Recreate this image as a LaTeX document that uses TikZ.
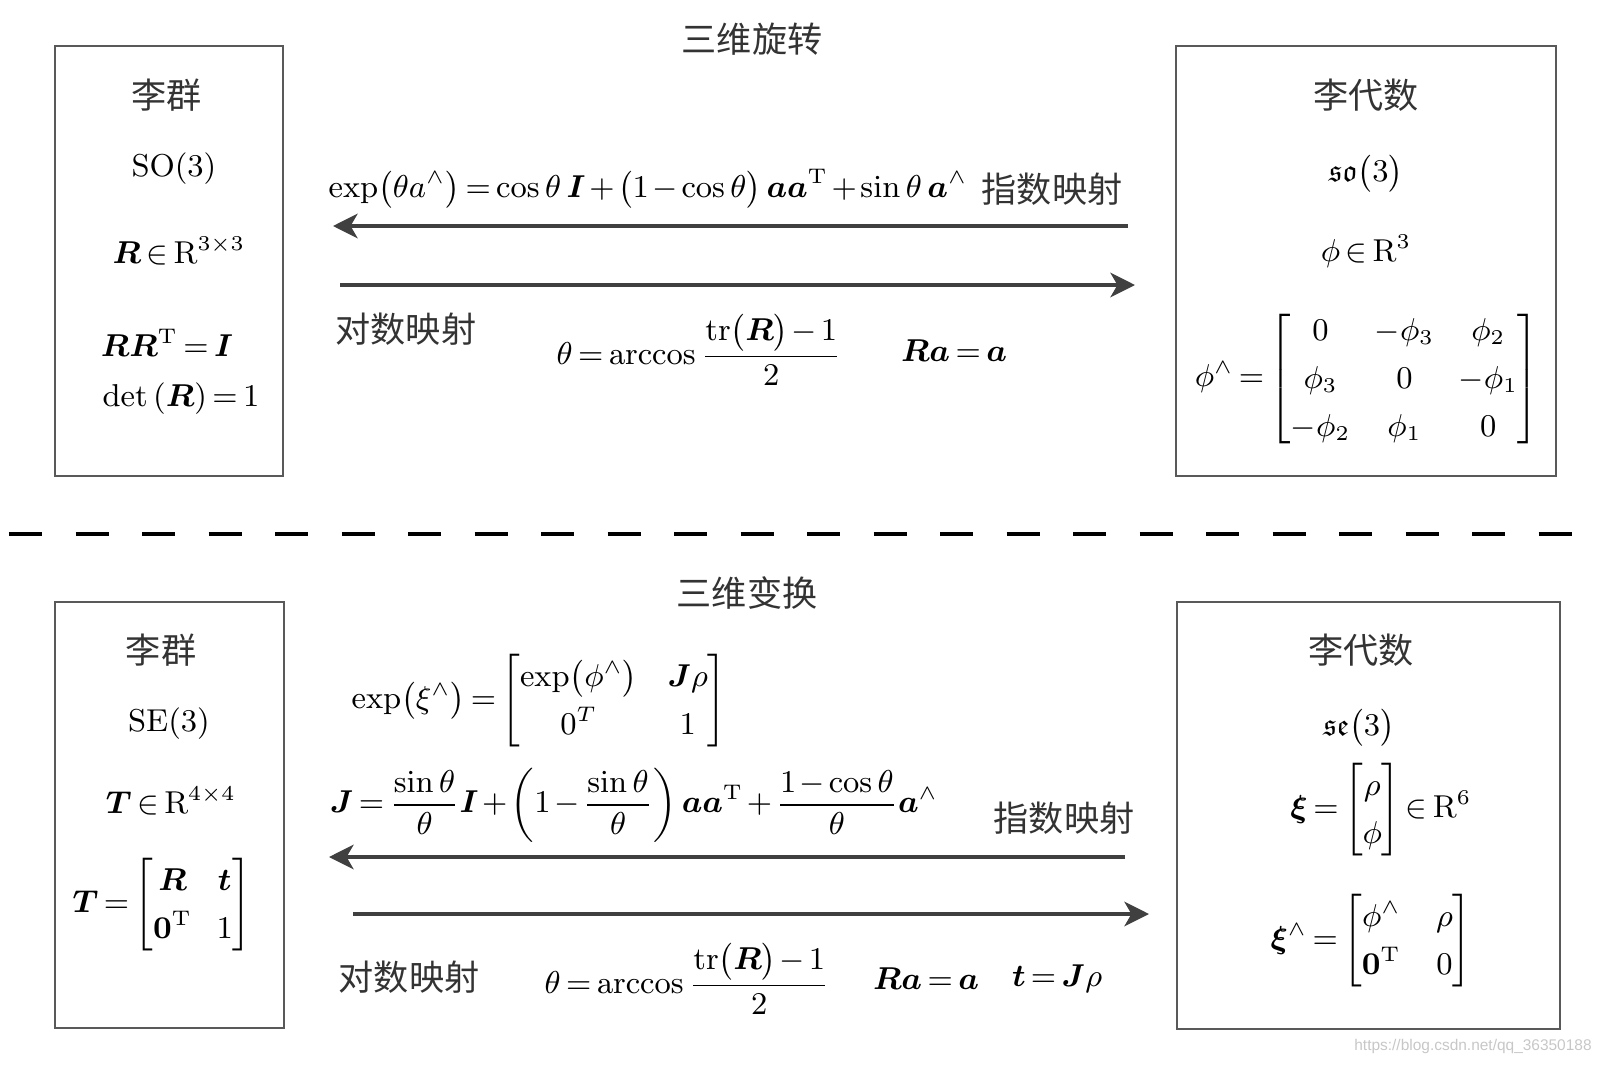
\documentclass[tikz,border=0pt]{standalone}
\usepackage{amsmath}
\usepackage{amssymb}
\usepackage[no-math]{fontspec}
\setmainfont{Liberation Serif}
\newfontfamily\cjk{Noto Sans CJK SC}
\newfontfamily\urlfont{Liberation Sans}
\usetikzlibrary{arrows.meta}

\begin{document}
\begin{tikzpicture}[
  groupbox/.style={draw=black!65, line width=0.7pt, inner sep=0pt, anchor=north west},
  cjklabel/.style={font=\cjk\fontsize{10}{12}\selectfont, text=black!80},
  formula/.style={inner sep=1pt, font={\fontsize{8.8}{10.5}\selectfont\medmuskip=2mu plus 1mu\thickmuskip=3mu plus 2mu\def\arraystretch{1.3}\arraycolsep=3.5pt}},
  maparrow/.style={draw=black!75, line width=1pt, -{Stealth[length=7pt,width=7pt,inset=2pt]}}
]
\useasboundingbox (0,0) rectangle (16.04,-10.65);

\node[groupbox, minimum width=2.28cm, minimum height=4.30cm] (so3grp) at (0.54,-0.45) {};
\node[groupbox, minimum width=3.80cm, minimum height=4.30cm] (so3alg) at (11.75,-0.45) {};
\node[groupbox, minimum width=2.29cm, minimum height=4.26cm] (se3grp) at (0.54,-6.01) {};
\node[groupbox, minimum width=3.83cm, minimum height=4.27cm] (se3alg) at (11.76,-6.01) {};

\draw[line width=0.9pt, dash pattern=on 0.33cm off 0.335cm] (0.09,-5.34) -- (15.73,-5.34);

\node[cjklabel] (rottitle) at (7.52,-0.39) {三维旋转};
\node[cjklabel] (trftitle) at (7.47,-5.93) {三维变换};

\node[cjklabel] (grpname1) at (1.67,-0.95) {李群};
\node[formula] (so3) at (1.74,-1.69) {$\mathrm{SO}(3)$};
\node[formula] (rdomain) at (1.79,-2.51) {$\boldsymbol{R}\in\mathrm{R}^{3\times3}$};
\node[formula] (orth) at (1.67,-3.43) {$\boldsymbol{R}\boldsymbol{R}^{\mathrm{T}}=\boldsymbol{I}$};
\node[formula] (det) at (1.81,-3.99) {$\det\left(\boldsymbol{R}\right)=1$};

\node[cjklabel] (algname1) at (13.66,-0.95) {李代数};
\node[formula] (so3lie) at (13.66,-1.74) {$\mathfrak{so}\bigl(3\bigr)$};
\node[formula] (phidomain) at (13.66,-2.51) {$\phi\in\mathrm{R}^{3}$};
\node[formula] (phihat) at (13.67,-3.79) {$\phi^{\wedge}=\begin{bmatrix} 0 & -\phi_3 & \phi_2\\ \phi_3 & 0 & -\phi_1\\ -\phi_2 & \phi_1 & 0\end{bmatrix}$};

\node[formula] (rodrigues) at (6.48,-1.89) {$\exp\bigl(\theta a^{\wedge}\bigr)=\cos\theta\,\boldsymbol{I}+\bigl(1-\cos\theta\bigr)\,\boldsymbol{a}\boldsymbol{a}^{\mathrm{T}}+\sin\theta\,\boldsymbol{a}^{\wedge}$};
\node[cjklabel] (expname1) at (10.52,-1.89) {指数映射};
\node[cjklabel] (logname1) at (4.06,-3.29) {对数映射};
\node[formula] (angle1) at (6.99,-3.50) {$\theta=\arccos\dfrac{\mathrm{tr}\bigl(\boldsymbol{R}\bigr)-1}{2}$};
\node[formula] (axis1) at (9.54,-3.51) {$\boldsymbol{R}\boldsymbol{a}=\boldsymbol{a}$};

\coordinate (exp1from) at (11.28,-2.26);
\coordinate (exp1to) at (3.33,-2.26);
\coordinate (log1from) at (3.40,-2.85);
\coordinate (log1to) at (11.35,-2.85);
\draw[maparrow] (exp1from) -- (exp1to);
\draw[maparrow] (log1from) -- (log1to);

\node[cjklabel] (grpname2) at (1.61,-6.50) {李群};
\node[formula] (se3) at (1.69,-7.24) {$\mathrm{SE}(3)$};
\node[formula] (tdomain) at (1.71,-8.01) {$\boldsymbol{T}\in\mathrm{R}^{4\times4}$};
\node[formula] (tmat) at (1.62,-9.05) {$\boldsymbol{T}=\begin{bmatrix}\boldsymbol{R} & \boldsymbol{t}\\ \boldsymbol{0}^{\mathrm{T}} & 1\end{bmatrix}$};

\node[cjklabel] (algname2) at (13.61,-6.50) {李代数};
\node[formula] (se3lie) at (13.59,-7.28) {$\mathfrak{se}\bigl(3\bigr)$};
\node[formula] (xidomain) at (13.81,-8.10) {$\boldsymbol{\xi}=\begin{bmatrix}\rho\\ \phi\end{bmatrix}\in\mathrm{R}^{6}$};
\node[formula] (xihat) at (13.71,-9.41) {$\boldsymbol{\xi}^{\wedge}=\begin{bmatrix}\phi^{\wedge} & \;\;\rho\\ \boldsymbol{0}^{\mathrm{T}} & \;\;0\end{bmatrix}$};

\node[formula] (sexp) at (5.39,-7.01) {$\exp\bigl(\xi^{\wedge}\bigr)=\begin{bmatrix}\exp\bigl(\phi^{\wedge}\bigr) & \;\boldsymbol{J}\rho\\ 0^{T} & \;1\end{bmatrix}$};
\node[formula] (jacobian) at (6.34,-8.05) {$\boldsymbol{J}=\dfrac{\sin\theta}{\theta}\boldsymbol{I}+\left(1-\dfrac{\sin\theta}{\theta}\right)\boldsymbol{a}\boldsymbol{a}^{\mathrm{T}}+\dfrac{1-\cos\theta}{\theta}\boldsymbol{a}^{\wedge}$};
\node[cjklabel] (expname2) at (10.64,-8.18) {指数映射};
\node[cjklabel] (logname2) at (4.09,-9.77) {对数映射};
\node[formula] (angle2) at (6.87,-9.79) {$\theta=\arccos\dfrac{\mathrm{tr}\bigl(\boldsymbol{R}\bigr)-1}{2}$};
\node[formula] (axis2) at (9.26,-9.79) {$\boldsymbol{R}\boldsymbol{a}=\boldsymbol{a}$};
\node[formula] (trans) at (10.57,-9.79) {$\boldsymbol{t}=\boldsymbol{J}\rho$};

\coordinate (exp2from) at (11.25,-8.57);
\coordinate (exp2to) at (3.29,-8.57);
\coordinate (log2from) at (3.53,-9.14);
\coordinate (log2to) at (11.49,-9.14);
\draw[maparrow] (exp2from) -- (exp2to);
\draw[maparrow] (log2from) -- (log2to);

\node[font=\urlfont\fontsize{4.4}{5}\selectfont, text=black!22] (mark) at (14.73,-10.46) {https://blog.csdn.net/qq\_36350188};
\end{tikzpicture}
\end{document}
